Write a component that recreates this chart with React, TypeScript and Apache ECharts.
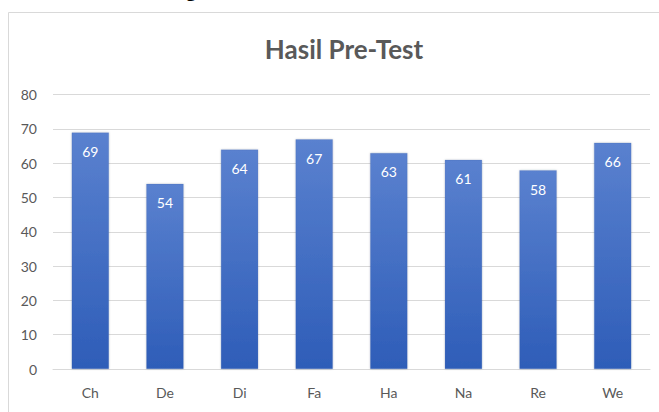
import React, { useEffect, useRef } from "react";
import * as echarts from "echarts";

const categories = ["Ch", "De", "Di", "Fa", "Ha", "Na", "Re", "We"];
const values = [69, 54, 64, 67, 63, 61, 58, 66];
const titleText = "Hasil Pre-Test";

export default function App() {
  const ref = useRef<HTMLDivElement>(null);
  useEffect(() => {
    document.body.style.margin = "0";
    const chart = echarts.init(ref.current!, null, { renderer: "svg" });
    chart.setOption({
      animation: false,
      backgroundColor: "#ffffff",
      textStyle: { fontFamily: "Lato" },
      title: {
        text: titleText,
        left: 339,
        top: 31,
        textAlign: "center",
        textStyle: { fontFamily: "Lato", fontWeight: "bold", fontSize: 26, color: "#595959" },
      },
      graphic: [
        {
          type: "rect",
          shape: { x: 8.5, y: 12.5, width: 700, height: 500 },
          style: { fill: "none", stroke: "#d9d9d9", lineWidth: 1 },
          silent: true,
        },
        {
          type: "text",
          x: 186,
          y: -1,
          style: {
            text: "g",
            font: "bold 20px 'Liberation Serif'",
            fill: "#000",
            textVerticalAlign: "bottom",
          },
          silent: true,
        },
      ],
      grid: { left: 53, right: 9, top: 94.7, bottom: 43 },
      xAxis: {
        type: "category",
        data: categories,
        axisLine: { lineStyle: { color: "#d9d9d9", width: 1 } },
        axisTick: { show: false },
        axisLabel: { color: "#595959", fontSize: 14, margin: 16, fontFamily: "Lato" },
      },
      yAxis: {
        type: "value",
        min: 0,
        max: 80,
        interval: 10,
        axisLine: { show: false },
        axisTick: { show: false },
        splitLine: { lineStyle: { color: "#d9d9d9", width: 1 } },
        axisLabel: { color: "#595959", fontSize: 14, margin: 16, fontFamily: "Lato" },
      },
      series: [
        {
          type: "bar",
          data: values,
          barWidth: "50%",
          itemStyle: {
            color: new echarts.graphic.LinearGradient(0, 0, 0, 1, [
              { offset: 0, color: "#5a81cf" },
              { offset: 1, color: "#2e5db8" },
            ]),
            borderColor: "rgba(60,90,160,0.35)",
            borderWidth: 0.5,
            shadowColor: "rgba(0,0,0,0.2)",
            shadowBlur: 2,
          },
          label: {
            show: true,
            position: "insideTop",
            distance: 12,
            color: "#ffffff",
            fontSize: 14,
            fontFamily: "Lato",
          },
        },
      ],
    });
    return () => chart.dispose();
  }, []);
  return <div ref={ref} style={{ width: 659, height: 412 }} />;
}
